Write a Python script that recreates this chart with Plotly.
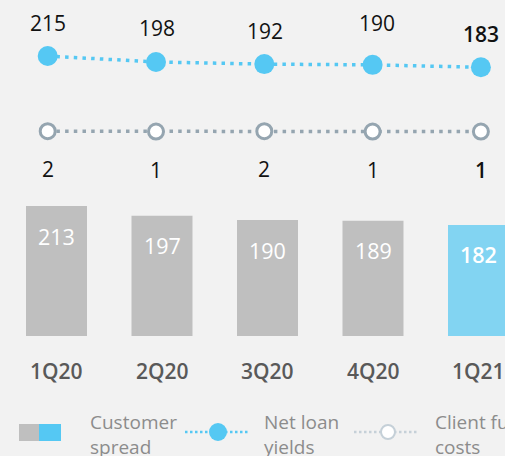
import plotly.graph_objects as go

# ---- data ----
categories = ["1Q20", "2Q20", "3Q20", "4Q20", "1Q21"]
customer_spread = [213, 197, 190, 189, 182]
net_loan_yields = [215, 198, 192, 190, 183]
client_funds_costs = [2, 1, 2, 1, 1]
legend_labels = ["Customer<br>spread", "Net loan<br>yields", "Client funds<br>costs"]

# ---- style ----
W, H = 505, 456
BG = "#f2f2f2"
GRAY_BAR = "#bfbfbf"
CYAN_BAR = "#82d4f2"
CYAN = "#55c8f3"
GRAY_MK = "#95a5b0"
FONT = "Open Sans"

bar_colors = [GRAY_BAR] * (len(categories) - 1) + [CYAN_BAR]

fig = go.Figure()

fig.add_trace(go.Bar(
    x=categories, y=customer_spread, marker=dict(color=bar_colors, line=dict(width=0)),
    width=0.578, xaxis="x", yaxis="y", showlegend=False, hoverinfo="skip"))

fig.add_trace(go.Scatter(
    x=categories, y=net_loan_yields, mode="lines+markers",
    line=dict(color=CYAN, width=3.5, dash="3.5px,5.2px"),
    marker=dict(color=CYAN, size=20, line=dict(width=0)),
    xaxis="x2", yaxis="y2", showlegend=False, hoverinfo="skip"))

fig.add_trace(go.Scatter(
    x=categories, y=client_funds_costs, mode="lines+markers",
    line=dict(color=GRAY_MK, width=3.5, dash="3.5px,5.2px"),
    marker=dict(color="white", size=15, line=dict(color=GRAY_MK, width=3)),
    xaxis="x2", yaxis="y2", showlegend=False, hoverinfo="skip"))

ann = []
last = len(categories) - 1
# line value labels
yld_shift = [33, 34, 33.5, 42, 33]
yld_xshift = [0, 1, 1, 4, 0]
for i, (c, v) in enumerate(zip(categories, net_loan_yields)):
    ann.append(dict(x=c, y=v, xref="x2", yref="y2", text=str(v), showarrow=False,
                    yshift=yld_shift[i], xshift=yld_xshift[i], yanchor="middle",
                    font=dict(family=FONT, size=21, color="#111111",
                              weight=600 if i == last else 400)))
for i, (c, v) in enumerate(zip(categories, client_funds_costs)):
    ann.append(dict(x=c, y=v, xref="x2", yref="y2", text=str(v), showarrow=False,
                    yshift=-38, yanchor="middle",
                    font=dict(family=FONT, size=21, color="#111111",
                              weight=600 if i == last else 400)))
# bar labels
for i, (c, v) in enumerate(zip(categories, customer_spread)):
    ann.append(dict(x=c, y=v, xref="x", yref="y", text=str(v), showarrow=False,
                    yshift=-30, yanchor="middle",
                    font=dict(family=FONT, size=21.5, color="white",
                              weight=600 if i == last else 400)))
# category labels
for c in categories:
    ann.append(dict(x=c, y=0, xref="x", yref="y", text=c, showarrow=False,
                    yshift=-35, yanchor="middle",
                    font=dict(family=FONT, size=21, color="#595959", weight=600)))

def px(x):
    return x / W

def py(y):
    return 1 - y / H

# legend (manual)
shapes = [
    dict(type="rect", xref="paper", yref="paper", x0=px(19), x1=px(39), y0=py(441), y1=py(424),
         fillcolor=GRAY_BAR, line=dict(width=0), layer="above"),
    dict(type="rect", xref="paper", yref="paper", x0=px(39), x1=px(61), y0=py(441), y1=py(424),
         fillcolor=CYAN, line=dict(width=0), layer="above"),
    dict(type="line", xref="paper", yref="paper", x0=px(185), x1=px(249), y0=py(432), y1=py(432),
         line=dict(color=CYAN, width=2.5, dash="2.5px,2.5px"), layer="above"),
    dict(type="circle", xref="paper", yref="paper", x0=px(209), x1=px(227), y0=py(441), y1=py(423),
         fillcolor=CYAN, line=dict(width=0), layer="above"),
    dict(type="line", xref="paper", yref="paper", x0=px(354), x1=px(419), y0=py(432), y1=py(432),
         line=dict(color="#c5d0d8", width=2.5, dash="2.5px,2.5px"), layer="above"),
    dict(type="circle", xref="paper", yref="paper", x0=px(381), x1=px(395), y0=py(439), y1=py(425),
         fillcolor="white", line=dict(color="#c5d0d8", width=2), layer="above"),
]
for lx, t in zip([88, 262, 433], legend_labels):
    ann.append(dict(x=px(lx), y=py(434), xref="paper", yref="paper", text=t, showarrow=False,
                    xanchor="left", yanchor="middle", align="left",
                    font=dict(family=FONT, size=19, color="#8c8c8c")))

hidden = dict(visible=False, showgrid=False, zeroline=False, fixedrange=True)
fig.update_layout(
    width=W, height=H, margin=dict(l=0, r=0, t=0, b=0),
    paper_bgcolor=BG, plot_bgcolor=BG,
    xaxis=dict(domain=[0, 1], range=[-56.5 / 105.5, (W - 56.5) / 105.5], type="category", **hidden),
    yaxis=dict(domain=[0, 1], range=[-(H - 336) / 0.61, 336 / 0.61], **hidden),
    xaxis2=dict(domain=[0, 1], range=[-47.7 / 108.3, (W - 47.7) / 108.3], type="category",
                overlaying="x", **hidden),
    yaxis2=dict(domain=[0, 1], range=[(131.9 - H) / 0.353, 131.9 / 0.353], overlaying="y", **hidden),
    annotations=ann, shapes=shapes, showlegend=False,
)

fig.write_html(
    "out.html",
    config={"displayModeBar": False},
    post_script="document.body.style.margin='0';document.body.style.overflow='hidden';"
                "document.documentElement.style.overflow='hidden';",
)
